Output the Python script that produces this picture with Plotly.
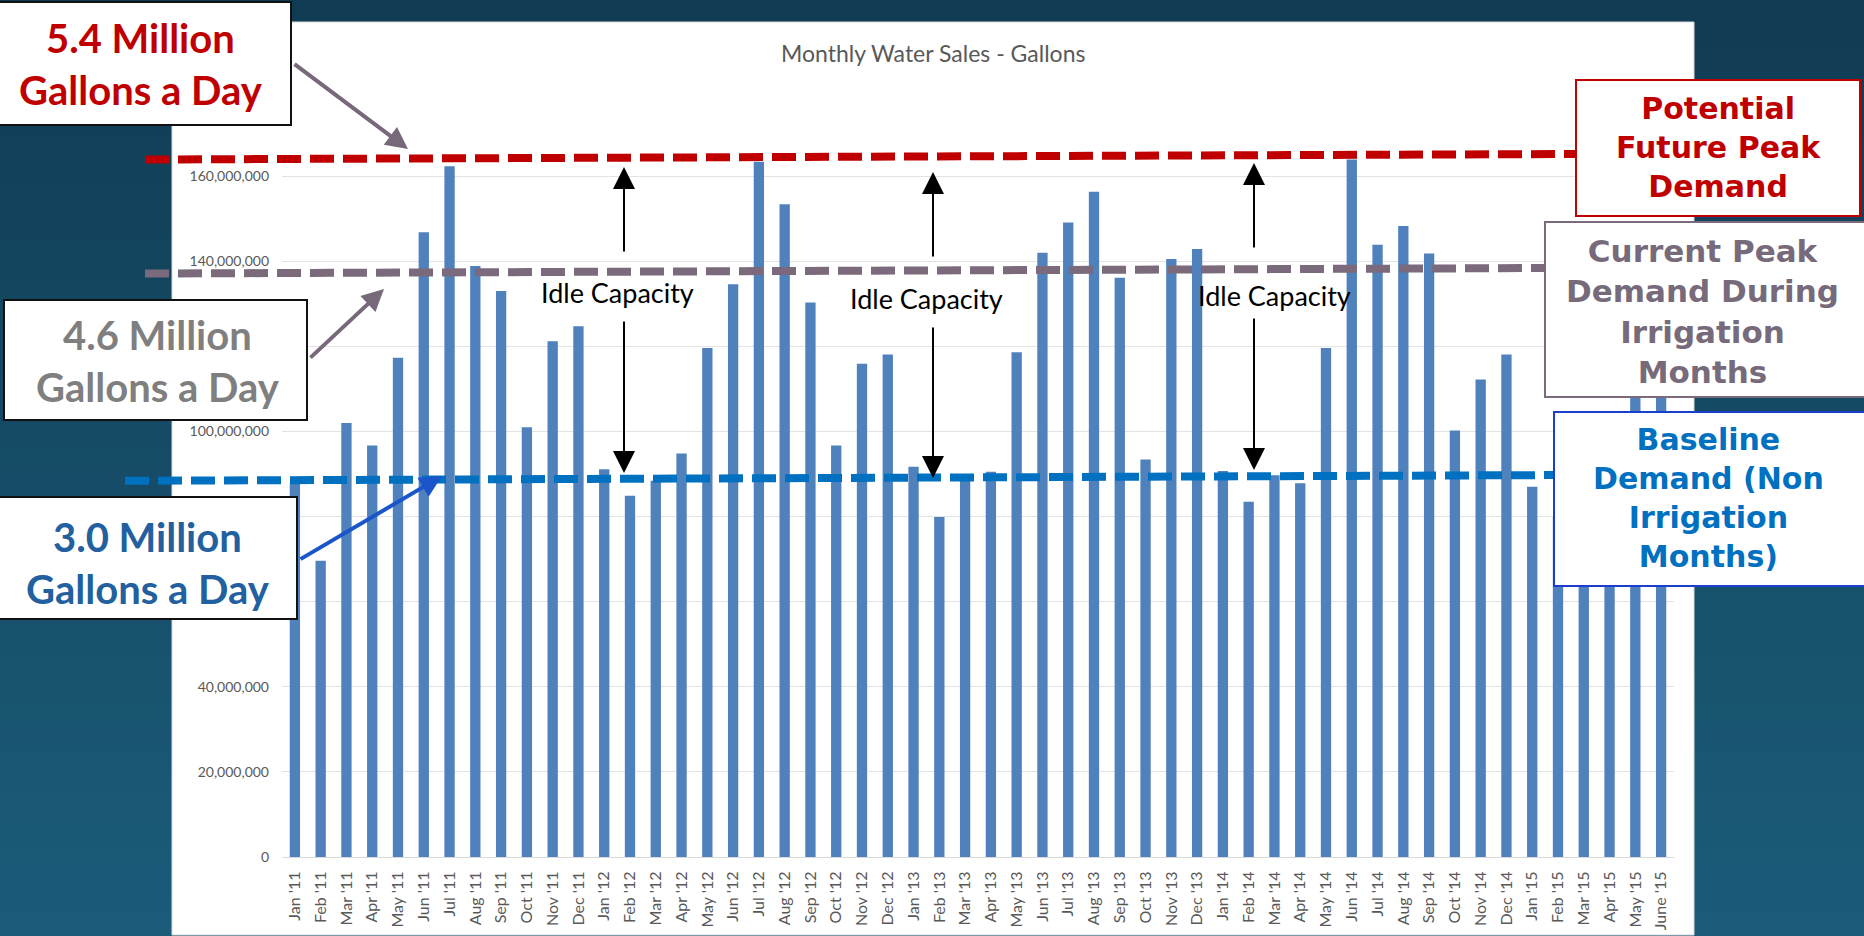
import plotly.graph_objects as go

# ---------------- data ----------------
months = ["Jan '11", "Feb '11", "Mar '11", "Apr '11", "May '11", "Jun '11", "Jul '11", "Aug '11",
          "Sep '11", "Oct '11", "Nov '11", "Dec '11",
          "Jan '12", "Feb '12", "Mar '12", "Apr '12", "May '12", "Jun '12", "Jul '12", "Aug '12",
          "Sep '12", "Oct '12", "Nov '12", "Dec '12",
          "Jan '13", "Feb '13", "Mar '13", "Apr '13", "May '13", "Jun '13", "Jul '13", "Aug '13",
          "Sep '13", "Oct '13", "Nov '13", "Dec '13",
          "Jan '14", "Feb '14", "Mar '14", "Apr '14", "May '14", "Jun '14", "Jul '14", "Aug '14",
          "Sep '14", "Oct '14", "Nov '14", "Dec '14",
          "Jan '15", "Feb '15", "Mar '15", "Apr '15", "May '15", "June '15"]

sales_millions = [87.8, 69.6, 102.0, 96.7, 117.3, 146.8, 162.3, 138.9, 133.0, 101.0, 121.2, 124.7,
                  91.1, 84.9, 88.4, 94.8, 119.6, 134.6, 163.4, 153.4, 130.3, 96.7, 115.9, 118.1,
                  91.7, 79.9, 88.4, 90.5, 118.6, 142.0, 149.1, 156.3, 136.1, 93.4, 140.5, 142.9,
                  90.7, 83.5, 89.7, 87.8, 119.6, 163.9, 143.9, 148.3, 141.8, 100.2, 112.2, 118.1,
                  87.0, 80.0, 86.0, 88.0, 115.0, 135.0]
sales = [v * 1e6 for v in sales_millions]

# reference levels (gallons/month), left end and right end of each dashed line
future_peak = (163.9e6, 165.2e6)
current_peak = (137.1e6, 138.4e6)
baseline = (88.4e6, 89.75e6)

y_ticks = [0, 20e6, 40e6, 60e6, 80e6, 100e6, 120e6, 140e6, 160e6, 180e6]

# ---------------- layout helpers ----------------
W_FIG, H_FIG = 1864, 936
L, R, T, B = 282, 190, 91, 79
PW = W_FIG - L - R
PH = H_FIG - T - B


def xp(px):
    return (px - L) / PW


def yp(py):
    return (H_FIG - B - py) / PH


fig = go.Figure()
fig.add_trace(go.Bar(x=months, y=sales, marker=dict(color="#4f81bd", line=dict(width=0)),
                     hoverinfo="x+y"))

shapes = []
# background gradient
top_c = (16, 60, 83)
bot_c = (27, 92, 122)
n = 40
for i in range(n):
    t = i / (n - 1)
    c = tuple(int(round(top_c[k] + (bot_c[k] - top_c[k]) * t)) for k in range(3))
    y0 = H_FIG * i / n
    y1 = H_FIG * (i + 1) / n + 1
    shapes.append(dict(type="rect", xref="paper", yref="paper", layer="below",
                       x0=xp(-5), x1=xp(W_FIG + 5), y0=yp(y1), y1=yp(y0),
                       fillcolor="rgb(%d,%d,%d)" % c, line=dict(width=0)))
# white chart area
shapes.append(dict(type="rect", xref="paper", yref="paper", layer="below",
                   x0=xp(172), x1=xp(1694), y0=yp(935), y1=yp(22),
                   fillcolor="white", line=dict(color="#d9d9d9", width=1)))

# dashed reference lines
dash = "24px,9px"
shapes.append(dict(type="line", xref="paper", yref="y", x0=xp(145), x1=xp(1576),
                   y0=future_peak[0], y1=future_peak[1],
                   line=dict(color="#c00000", width=8, dash=dash)))
shapes.append(dict(type="line", xref="paper", yref="y", x0=xp(145), x1=xp(1545),
                   y0=current_peak[0], y1=current_peak[1],
                   line=dict(color="#7a6a7c", width=8, dash=dash)))
shapes.append(dict(type="line", xref="paper", yref="y", x0=xp(125), x1=xp(1554),
                   y0=baseline[0], y1=baseline[1],
                   line=dict(color="#0070c0", width=8, dash=dash)))


# boxes
def box(x0, y0, x1, y1, color, w=2):
    shapes.append(dict(type="rect", xref="paper", yref="paper", layer="above",
                       x0=xp(x0), x1=xp(x1), y0=yp(y1), y1=yp(y0),
                       fillcolor="white", line=dict(color=color, width=w)))


box(-2, 2, 291, 125, "#111111")
box(4, 300, 307, 420, "#111111")
box(-2, 497, 297, 619, "#111111")
box(1576, 80, 1860, 216, "#c00000")
box(1545, 222, 1875, 397, "#7a6a7c")
box(1554, 412, 1875, 586, "#1a3fd0")

ann = []


def label(px, py, text, size, color, family="Lato", weight="normal"):
    ann.append(dict(x=xp(px), y=yp(py), xref="paper", yref="paper", showarrow=False,
                    xanchor="center", yanchor="middle", align="center", text=text,
                    font=dict(family=family, size=size, color=color, weight=weight)))


# title
label(933, 53, "Monthly Water Sales - Gallons", 23, "#595959")

# left box texts
label(141, 64, "5.4 Million<br>Gallons a Day", 40, "#c00000", weight="bold")
label(158, 361, "4.6 Million<br>Gallons a Day", 40, "#7f7f7f", weight="bold")
label(148, 563, "3.0 Million<br>Gallons a Day", 40, "#22609f", weight="bold")

# right box texts
rf = "DejaVu Sans"
label(1718, 147, "Potential<br>Future Peak<br>Demand", 30, "#c00000", family=rf, weight="bold")
label(1702, 311, "Current Peak<br>Demand During<br>Irrigation<br>Months", 31, "#766a7b",
      family=rf, weight="bold")
label(1708, 498, "Baseline<br>Demand (Non<br>Irrigation<br>Months)", 30, "#0070c0",
      family=rf, weight="bold")


# arrows
def arrow(tx, ty, hx, hy, color, width, size=1.0, head=2):
    ann.append(dict(x=xp(hx), y=yp(hy), xref="paper", yref="paper",
                    ax=tx - hx, ay=ty - hy, axref="pixel", ayref="pixel",
                    text="", showarrow=True, arrowhead=head, arrowsize=size,
                    arrowwidth=width, arrowcolor=color, standoff=0, startstandoff=0))


arrow(293, 63, 408, 149, "#77687a", 4, 1.1)
arrow(309, 359, 384, 289, "#77687a", 4, 1.1)
arrow(299, 560, 442, 476, "#1a56c9", 4, 1.1)

# idle capacity arrows and labels
idle = [
    # arrow x, top tip, top shaft end, bottom shaft start, bottom tip, text x, text y
    (624, 167, 253, 320, 473, 617, 292),
    (933, 172, 258, 326, 478, 926, 298),
    (1254, 163, 249, 317, 470, 1274, 295),
]
for ax_, tt, te, bs, bt, tx, ty in idle:
    arrow(ax_, te, ax_, tt, "black", 2, 2.2)
    arrow(ax_, bs, ax_, bt, "black", 2, 2.2)
    label(tx, ty, "Idle Capacity", 27, "black")

fig.update_layout(
    width=W_FIG, height=H_FIG,
    margin=dict(l=L, r=R, t=T, b=B, autoexpand=False),
    paper_bgcolor="#154a63", plot_bgcolor="white",
    showlegend=False, bargap=0.6,
    shapes=shapes, annotations=ann,
    font=dict(family="Lato", color="#595959"),
    xaxis=dict(type="category", tickangle=-90, showgrid=False, showline=True,
               linecolor="#d9d9d9", linewidth=1, ticks="", ticklabelstandoff=7,
               tickfont=dict(family="Lato", size=16, color="#595959"), fixedrange=True),
    yaxis=dict(range=[0, 180e6], tickvals=y_ticks, tickformat=",", showgrid=True,
               gridcolor="#e3e3e3", gridwidth=1, zeroline=False, showline=False, ticks="",
               ticklabelstandoff=12,
               tickfont=dict(family="Lato", size=14, color="#595959"), fixedrange=True),
)

fig.write_html("out.html", config={"displayModeBar": False},
               post_script="document.body.style.margin='0';document.body.style.overflow='hidden';")
